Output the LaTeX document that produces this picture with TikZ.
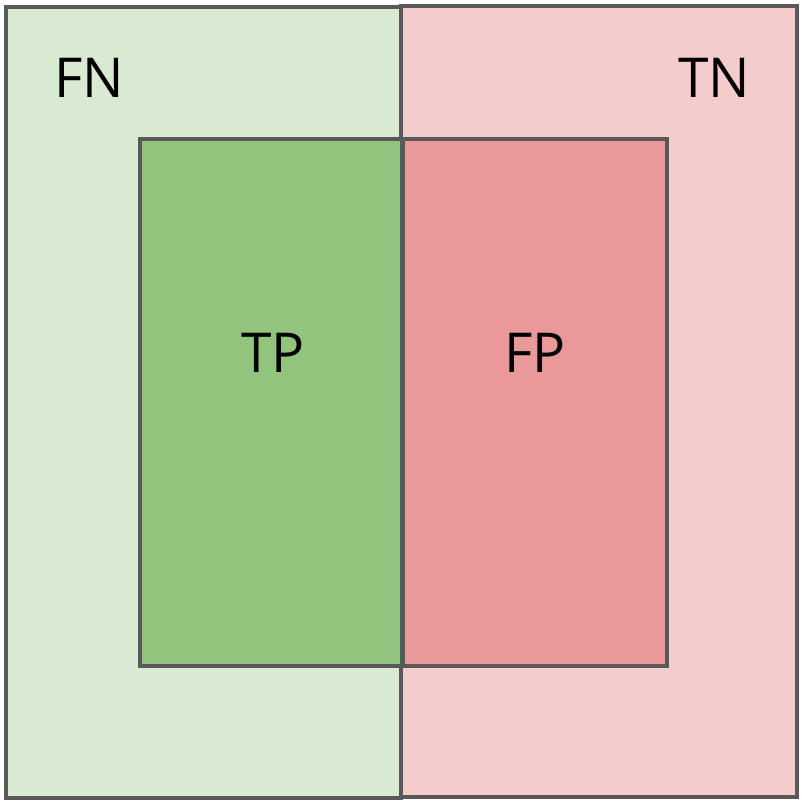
\documentclass[tikz,border=0pt]{standalone}
\usepackage{fontspec}
\setmainfont{Open Sans}
\usetikzlibrary{positioning}

\definecolor{fnfill}{HTML}{D9EAD3}
\definecolor{tnfill}{HTML}{F4CCCC}
\definecolor{tpfill}{HTML}{93C47D}
\definecolor{fpfill}{HTML}{EA9999}
\definecolor{edge}{HTML}{595959}

\begin{document}
\begin{tikzpicture}[
  x=1pt, y=-1pt,
  area/.style={rectangle, draw=edge, line width=3.4pt, inner sep=0pt, anchor=center},
  tag/.style={font=\fontsize{55}{55}\selectfont, text=black, inner sep=0pt}
]
\useasboundingbox (0,0) rectangle (802,802);
% outer halves
\node[area, fill=fnfill, minimum width=395pt, minimum height=791pt] (fn) at (203.5,402.5) {};
\node[area, fill=tnfill, minimum width=396pt, minimum height=791pt] (tn) at (599,401.5) {};
% predicted positives
\node[area, fill=tpfill, minimum width=262pt, minimum height=527pt] (tp) at (271,402.5) {};
\node[area, fill=fpfill, minimum width=264pt, minimum height=527pt] (fp) at (535,402.5) {};
% labels
\node[tag] (fnlabel) at (89,78) {FN};
\node[tag] (tnlabel) at (714,78) {TN};
\node[tag] (tplabel) at (273,353) {TP};
\node[tag] (fplabel) at (535,353) {FP};
\end{tikzpicture}
\end{document}
